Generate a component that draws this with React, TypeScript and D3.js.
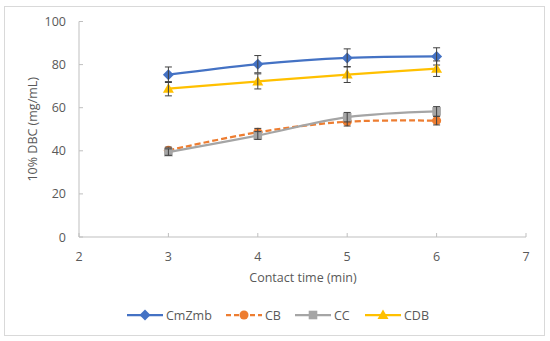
import React from "react";
import * as d3 from "d3";

const times = [3, 4, 5, 6];
const seriesNames = ["CmZmb", "CB", "CC", "CDB"];
const cmzmb = [75.3, 80.2, 83.1, 83.8];
const cmzmbErr = [3.6, 4.0, 4.2, 4.0];
const cb = [40.2, 48.6, 53.5, 54.0];
const cbErr = [1.5, 1.8, 2.0, 2.0];
const cc = [39.4, 47.1, 55.6, 58.3];
const ccErr = [1.5, 1.8, 2.2, 2.2];
const cdb = [68.8, 72.2, 75.4, 78.1];
const cdbErr = [3.3, 3.5, 3.7, 3.6];
const xTicks = [2, 3, 4, 5, 6, 7];
const yTicks = [0, 20, 40, 60, 80, 100];

const FONT = "'Open Sans', 'Liberation Sans', sans-serif";

const series = [
  { name: seriesNames[0], values: cmzmb, err: cmzmbErr, color: "#4472C4", dash: "", marker: "diamond" },
  { name: seriesNames[1], values: cb, err: cbErr, color: "#ED7D31", dash: "6,3", marker: "circle" },
  { name: seriesNames[2], values: cc, err: ccErr, color: "#A5A5A5", dash: "", marker: "square" },
  { name: seriesNames[3], values: cdb, err: cdbErr, color: "#FFC000", dash: "", marker: "triangle" },
];

const symbolFor = (m: string) => {
  if (m === "diamond") return "M0,-5.5L5.5,0L0,5.5L-5.5,0Z";
  if (m === "circle") return d3.symbol(d3.symbolCircle, 64)();
  if (m === "square") return "M-4.3,-4.3H4.3V4.3H-4.3Z";
  return "M0,-5.5L5.5,4L-5.5,4Z";
};

export default function App() {
  const W = 550, H = 341;
  const x = d3.scaleLinear().domain([2, 7]).range([79, 526]);
  const y = d3.scaleLinear().domain([0, 100]).range([237, 21.5]);
  const line = d3
    .line<number>()
    .x((_, i) => x(times[i]))
    .y((d) => y(d))
    .curve(d3.curveCatmullRom.alpha(0.5));

  const legendX = [127, 226, 295, 365];

  return (
    <svg width={W} height={H} style={{ position: "absolute", left: 0, top: 0 }}>
      <rect x={0} y={0} width={W} height={H} fill="#fff" />
      <rect x={4.5} y={6.5} width={540} height={329} fill="#fff" stroke="#D9D9D9" strokeWidth={1} />
      {/* axes */}
      <line x1={x(2)} x2={x(7)} y1={y(0)} y2={y(0)} stroke="#BFBFBF" strokeWidth={1} />
      <line x1={x(2)} x2={x(2)} y1={y(0)} y2={y(100)} stroke="#BFBFBF" strokeWidth={1} />
      {xTicks.map((t) => (
        <g key={"xt" + t}>
          <line x1={x(t)} x2={x(t)} y1={y(0)} y2={y(0) - 4} stroke="#BFBFBF" />
          <text x={x(t)} y={261} textAnchor="middle" fontFamily={FONT} fontSize={12.5} fill="#595959">
            {t}
          </text>
        </g>
      ))}
      {yTicks.map((t) => (
        <g key={"yt" + t}>
          <line x1={x(2)} x2={x(2) + 4} y1={y(t)} y2={y(t)} stroke="#BFBFBF" />
          <text x={66} y={y(t) + 4.5} textAnchor="end" fontFamily={FONT} fontSize={12.5} fill="#595959">
            {t}
          </text>
        </g>
      ))}
      <text x={303} y={282} textAnchor="middle" fontFamily={FONT} fontSize={12.5} fill="#595959">
        Contact time (min)
      </text>
      <text
        transform={`translate(37, ${y(50)}) rotate(-90)`}
        textAnchor="middle"
        fontFamily={FONT}
        fontSize={12.5}
        fill="#595959"
      >
        10% DBC (mg/mL)
      </text>
      {/* series */}
      {series.map((s) => (
        <g key={s.name}>
          <path d={line(s.values) || ""} fill="none" stroke={s.color} strokeWidth={2.25} strokeDasharray={s.dash} />
          {s.values.map((v, i) => (
            <path key={i} d={symbolFor(s.marker) || ""} transform={`translate(${x(times[i])},${y(v)})`} fill={s.color} />
          ))}
          {s.values.map((v, i) => {
            const cx = x(times[i]);
            const t = y(v + s.err[i]);
            const b = y(v - s.err[i]);
            return (
              <g key={"e" + i} stroke="#404040" strokeWidth={1}>
                <line x1={cx} x2={cx} y1={t} y2={b} />
                <line x1={cx - 3.5} x2={cx + 3.5} y1={t} y2={t} />
                <line x1={cx - 3.5} x2={cx + 3.5} y1={b} y2={b} />
              </g>
            );
          })}
        </g>
      ))}
      {/* legend */}
      {series.map((s, i) => (
        <g key={"lg" + s.name}>
          <line x1={legendX[i]} x2={legendX[i] + 36} y1={315} y2={315} stroke={s.color} strokeWidth={2.25} strokeDasharray={s.dash ? "5,3" : ""} />
          <path d={symbolFor(s.marker) || ""} transform={`translate(${legendX[i] + 18},315)`} fill={s.color} />
          <text x={legendX[i] + 39} y={319.5} fontFamily={FONT} fontSize={12.5} fill="#595959">
            {s.name}
          </text>
        </g>
      ))}
    </svg>
  );
}
